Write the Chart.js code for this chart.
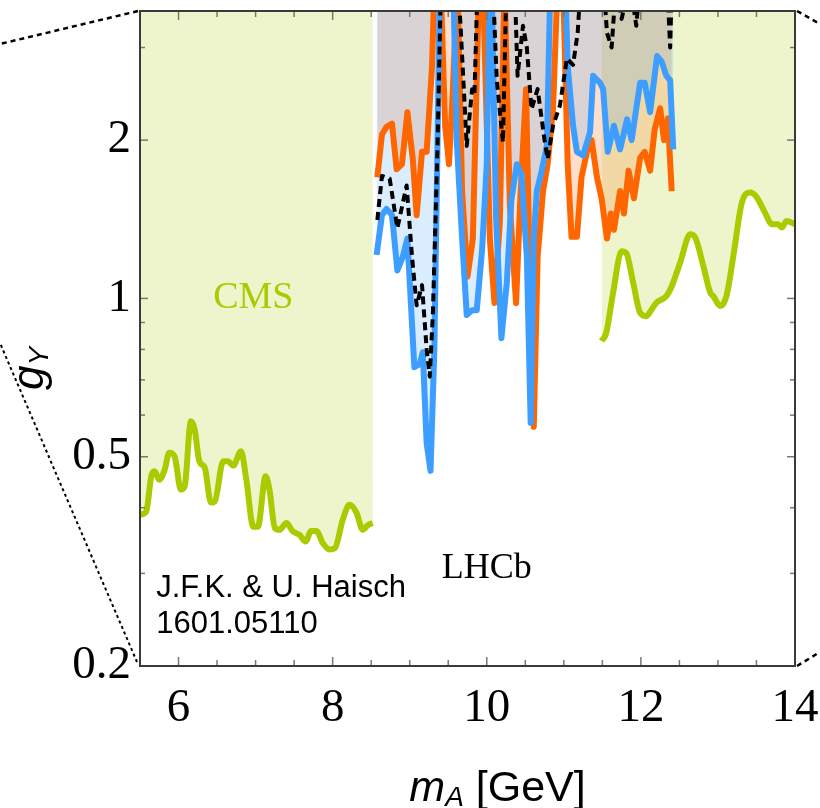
<!DOCTYPE html>
<html>
<head>
<meta charset="utf-8">
<script src="https://cdn.jsdelivr.net/npm/chart.js@4.4.0/dist/chart.umd.min.js"></script>
<style>
  html, body { margin: 0; padding: 0; background: #fff; }
  #wrap { width: 820px; height: 808px; }
</style>
</head>
<body>
<div id="wrap"><canvas id="chart" width="820" height="808"></canvas></div>
<script>
// CMS limit, low mass part
const cmsLowX = [5.5, 5.58, 5.65, 5.69, 5.75, 5.82, 5.88, 5.95, 6.03, 6.08, 6.16, 6.21, 6.27, 6.34, 6.42, 6.47, 6.58, 6.64, 6.71, 6.81, 6.88, 6.97, 7.03, 7.13, 7.18, 7.25, 7.31, 7.40, 7.48, 7.57, 7.65, 7.72, 7.79, 7.87, 7.96, 8.03, 8.13, 8.22, 8.31, 8.39, 8.46, 8.52];
const cmsLowY = [0.388, 0.393, 0.462, 0.469, 0.452, 0.472, 0.509, 0.50, 0.433, 0.439, 0.584, 0.563, 0.49, 0.477, 0.409, 0.411, 0.49, 0.49, 0.481, 0.512, 0.452, 0.368, 0.368, 0.459, 0.433, 0.366, 0.363, 0.374, 0.361, 0.355, 0.345, 0.361, 0.361, 0.343, 0.333, 0.335, 0.379, 0.405, 0.391, 0.363, 0.371, 0.374];

// CMS limit, high mass part
const cmsHighX = [11.49, 11.55, 11.64, 11.75, 11.81, 11.90, 11.99, 12.07, 12.14, 12.20, 12.33, 12.40, 12.51, 12.64, 12.70, 12.81, 12.90, 12.94, 13.03, 13.11, 13.20, 13.31, 13.42, 13.50, 13.61, 13.70, 13.78, 13.83, 13.89, 14.0];
const cmsHighY = [0.83, 0.86, 1.026, 1.23, 1.22, 1.071, 0.939, 0.925, 0.953, 0.981, 1.01, 1.055, 1.17, 1.324, 1.31, 1.153, 1.026, 1.01, 0.967, 1.01, 1.204, 1.52, 1.59, 1.56, 1.456, 1.384, 1.384, 1.364, 1.404, 1.384];

// LHCb, orange curve
const orangeX = [8.58, 8.64, 8.70, 8.77, 8.83, 8.90, 8.97, 9.04, 9.09, 9.16, 9.22, 9.29, 9.34, 9.40, 9.46, 9.51, 9.56, 9.62, 9.68, 9.75, 9.82, 9.90, 9.95, 10.04, 10.10, 10.17, 10.23, 10.30, 10.38, 10.44, 10.51, 10.57, 10.61, 10.66, 10.73, 10.79, 10.86, 10.92, 10.99, 11.05, 11.10, 11.17, 11.23, 11.30, 11.36, 11.43, 11.49, 11.56, 11.61, 11.65, 11.73, 11.78, 11.84, 11.91, 11.99, 12.05, 12.12, 12.18, 12.25, 12.30, 12.35, 12.40];
const orangeY = [1.7, 2.05, 2.12, 2.15, 1.76, 1.80, 2.26, 1.84, 1.44, 1.90, 1.90, 2.77, 5, 4, 2.13, 1.8, 2.5, 4, 1.6, 1.1, 1.3, 4, 4, 1.3, 0.98, 1.4, 4, 1.5, 0.98, 1.6, 2.5, 0.9, 0.57, 1.2, 1.6, 1.8, 2.3, 4, 4, 1.8, 1.31, 1.31, 1.7, 1.9, 2.0, 1.7, 1.55, 1.3, 1.45, 1.35, 1.6, 1.45, 1.75, 1.55, 1.85, 1.9, 1.75, 2.1, 2.3, 2.0, 2.2, 1.6];

// LHCb, blue curve
const blueX = [8.57, 8.64, 8.70, 8.77, 8.84, 8.91, 8.97, 9.06, 9.13, 9.17, 9.22, 9.27, 9.32, 9.36, 9.40, 9.55, 9.61, 9.68, 9.74, 9.81, 9.87, 9.94, 10.0, 10.05, 10.12, 10.19, 10.26, 10.32, 10.39, 10.45, 10.52, 10.57, 10.61, 10.65, 10.71, 10.78, 10.84, 11.0, 11.05, 11.12, 11.17, 11.25, 11.34, 11.38, 11.47, 11.51, 11.57, 11.65, 11.73, 11.82, 11.88, 11.99, 12.05, 12.12, 12.21, 12.27, 12.33, 12.38, 12.42];
const blueY = [1.21, 1.44, 1.48, 1.44, 1.13, 1.20, 1.30, 0.74, 0.75, 0.79, 0.53, 0.47, 0.8, 1.92, 5, 5, 2.0, 1.3, 0.93, 0.95, 0.95, 1.24, 1.8, 5, 1.44, 0.84, 1.07, 1.54, 1.8, 1.72, 1.2, 0.58, 1.3, 1.6, 1.74, 1.95, 5, 5, 2.77, 2.13, 1.9, 1.87, 2.07, 2.65, 2.57, 2.5, 1.9, 2.13, 1.92, 2.19, 2.0, 2.57, 2.57, 2.26, 2.89, 2.82, 2.65, 2.6, 1.92];

// LHCb, dashed curve
const dashX = [8.58, 8.64, 8.74, 8.84, 8.96, 9.03, 9.09, 9.16, 9.22, 9.26, 9.30, 9.36, 9.42, 9.58, 9.66, 9.74, 9.81, 9.84, 9.90, 10.05, 10.13, 10.21, 10.27, 10.34, 10.40, 10.47, 10.52, 10.58, 10.66, 10.75, 10.79, 10.86, 10.95, 11.04, 11.12, 11.18, 11.26, 11.47, 11.56, 11.62, 11.68, 11.75, 11.86, 11.94, 12.05, 12.31, 12.38, 12.42];
const dashY = [1.41, 1.71, 1.69, 1.36, 1.64, 1.2, 0.97, 1.06, 0.8, 0.71, 0.93, 1.92, 5, 5, 3.3, 1.95, 2.5, 2.44, 5, 5, 2.6, 1.98, 5, 5, 2.65, 3.3, 3.0, 2.29, 2.5, 2.0, 1.84, 2.13, 2.33, 2.86, 2.78, 3.2, 5, 5, 3.2, 3.0, 4, 3.4, 4, 3.3, 5, 5, 3.0, 5];

// axis ticks
const xTickValues = [5.5, 6, 6.5, 7, 7.5, 8, 8.5, 9, 9.5, 10, 10.5, 11, 11.5, 12, 12.5, 13, 13.5, 14];
const xLabels = [6, 8, 10, 12, 14];
const yTickValues = [0.2, 0.3, 0.4, 0.5, 0.6, 0.7, 0.8, 0.9, 1, 2, 3];
const yLabels = [0.2, 0.5, 1, 2];

const pts = (xs, ys) => xs.map((x, i) => ({ x: x, y: ys[i] }));

const GREEN = '#a8cc00';
const ORANGE = '#ff6600';
const BLUE = '#3d9eff';
const SERIF = '"Liberation Serif", "Times New Roman", serif';
const SANS = '"Liberation Sans", Arial, sans-serif';

// connector lines, frame, inward ticks and labels
const decoPlugin = {
  id: 'deco',
  afterDraw(chart) {
    const { ctx, chartArea: a, scales: { x, y } } = chart;
    const W = chart.width;
    ctx.save();

    const seg = (x1, y1, x2, y2) => { ctx.beginPath(); ctx.moveTo(x1, y1); ctx.lineTo(x2, y2); ctx.stroke(); };

    // dotted connector lines
    ctx.strokeStyle = '#000';
    ctx.lineWidth = 2.5;
    ctx.setLineDash([5, 4]);
    seg(a.left - 2, a.top, 0, 44);
    seg(a.right + 2, a.top, W, 24);
    seg(a.right + 2, a.bottom, W, 652);
    ctx.lineWidth = 2;
    ctx.setLineDash([3, 3]);
    seg(a.left - 3, a.bottom - 4, 0, 343);
    ctx.setLineDash([]);

    // inward ticks
    ctx.strokeStyle = '#777';
    ctx.lineWidth = 1.5;
    x.ticks.forEach(t => {
      const px = x.getPixelForValue(t.value);
      const len = xLabels.includes(t.value) ? 9 : 6;
      seg(px, a.bottom, px, a.bottom - len);
      seg(px, a.top, px, a.top + len);
    });
    y.ticks.forEach(t => {
      const py = y.getPixelForValue(t.value);
      const len = yLabels.includes(t.value) ? 8 : 5;
      seg(a.left, py, a.left + len, py);
      seg(a.right, py, a.right - len, py);
    });

    // frame
    ctx.strokeStyle = '#3a3a3a';
    ctx.lineWidth = 2;
    ctx.strokeRect(a.left, a.top, a.right - a.left, a.bottom - a.top);

    // region labels
    ctx.textAlign = 'center';
    ctx.textBaseline = 'middle';
    ctx.font = '38px ' + SERIF;
    ctx.fillStyle = GREEN;
    ctx.fillText('CMS', x.getPixelForValue(6.97), y.getPixelForValue(1.0));
    ctx.fillStyle = '#000';
    ctx.font = '36px ' + SERIF;
    ctx.fillText('LHCb', x.getPixelForValue(10.0), y.getPixelForValue(0.307));

    ctx.textAlign = 'left';
    ctx.textBaseline = 'alphabetic';
    ctx.font = '31px ' + SANS;
    ctx.fillText('J.F.K. & U. Haisch', x.getPixelForValue(5.71), y.getPixelForValue(0.27));
    ctx.fillText('1601.05110', x.getPixelForValue(5.71), y.getPixelForValue(0.231));

    // x axis title: m_A [GeV]
    ctx.font = 'italic 43px ' + SANS;
    const mW = ctx.measureText('m').width;
    ctx.font = 'italic 28px ' + SANS;
    const aW = ctx.measureText('A').width;
    ctx.font = '43px ' + SANS;
    const gW = ctx.measureText(' [GeV]').width;
    let tx = (a.left + a.right) / 2 - (mW + aW + gW) / 2 + 30;
    const ty = 801;
    ctx.font = 'italic 43px ' + SANS;
    ctx.fillText('m', tx, ty);
    tx += mW;
    ctx.font = 'italic 28px ' + SANS;
    ctx.fillText('A', tx, ty + 5);
    tx += aW;
    ctx.font = '43px ' + SANS;
    ctx.fillText(' [GeV]', tx, ty);

    // y axis title: g_Y
    ctx.translate(43, 390);
    ctx.rotate(-Math.PI / 2);
    ctx.font = 'italic 44px ' + SANS;
    ctx.fillText('g', 0, 0);
    const gw = ctx.measureText('g').width;
    ctx.font = 'italic 28px ' + SANS;
    ctx.fillText('Y', gw, 5);

    ctx.restore();
  }
};

const lineBase = {
  pointRadius: 0,
  tension: 0,
  borderJoinStyle: 'round',
  borderCapStyle: 'butt',
  clip: 0
};

new Chart(document.getElementById('chart'), {
  type: 'line',
  data: {
    datasets: [
      Object.assign({}, lineBase, {
        label: 'dashed',
        data: pts(dashX, dashY),
        borderColor: '#000',
        borderWidth: 4,
        borderDash: [8, 5],
        fill: false,
        order: 0
      }),
      Object.assign({}, lineBase, {
        label: 'blue',
        data: pts(blueX, blueY),
        borderColor: BLUE,
        borderWidth: 6,
        fill: 'end',
        backgroundColor: 'rgba(61,158,255,0.19)',
        order: 1
      }),
      Object.assign({}, lineBase, {
        label: 'orange',
        data: pts(orangeX, orangeY),
        borderColor: ORANGE,
        borderWidth: 6,
        fill: 'end',
        backgroundColor: 'rgba(255,110,20,0.22)',
        order: 2
      }),
      Object.assign({}, lineBase, {
        label: 'CMS low',
        data: pts(cmsLowX, cmsLowY),
        borderColor: GREEN,
        borderWidth: 6,
        tension: 0.4,
        cubicInterpolationMode: 'monotone',
        fill: 'end',
        backgroundColor: 'rgba(170,204,0,0.2)',
        order: 3
      }),
      Object.assign({}, lineBase, {
        label: 'CMS high',
        data: pts(cmsHighX, cmsHighY),
        borderColor: GREEN,
        borderWidth: 6,
        tension: 0.4,
        cubicInterpolationMode: 'monotone',
        fill: 'end',
        backgroundColor: 'rgba(170,204,0,0.2)',
        order: 3
      })
    ]
  },
  options: {
    responsive: false,
    animation: false,
    events: [],
    layout: { padding: { top: 11, right: 25, left: 0, bottom: 0 } },
    plugins: {
      legend: { display: false },
      tooltip: { enabled: false },
      filler: { drawTime: 'beforeDatasetsDraw' }
    },
    scales: {
      x: {
        type: 'linear',
        min: 5.5,
        max: 14,
        afterBuildTicks: s => { s.ticks = xTickValues.map(v => ({ value: v })); },
        afterFit: s => { s.height = 142; s.paddingLeft = 0; s.paddingRight = 0; },
        grid: { display: false, drawTicks: false },
        border: { display: false },
        ticks: {
          autoSkip: false,
          maxRotation: 0,
          padding: 14,
          color: '#000',
          font: { family: SERIF, size: 47 },
          callback: v => xLabels.includes(v) ? String(v) : ''
        }
      },
      y: {
        type: 'logarithmic',
        min: 0.2,
        max: 3.52,
        afterBuildTicks: s => { s.ticks = yTickValues.map(v => ({ value: v })); },
        afterFit: s => { s.width = 140; s.paddingTop = 0; s.paddingBottom = 0; },
        grid: { display: false, drawTicks: false },
        border: { display: false },
        ticks: {
          autoSkip: false,
          padding: 9,
          color: '#000',
          font: { family: SERIF, size: 47 },
          callback: v => yLabels.includes(v) ? String(v) : ''
        }
      }
    }
  },
  plugins: [decoPlugin]
});
</script>
</body>
</html>
